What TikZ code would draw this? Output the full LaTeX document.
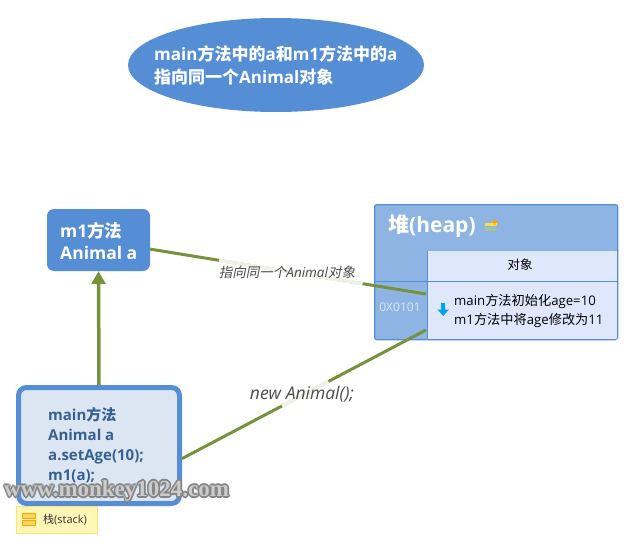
\documentclass[tikz,border=0pt]{standalone}
\usepackage{fontspec}
\usetikzlibrary{shapes.geometric,calc,arrows.meta}
\setmainfont{Open Sans}
\newfontfamily\cjk{Noto Sans CJK SC}
\newfontfamily\cjkit[FakeSlant=0.2]{Noto Sans CJK SC}
\newfontfamily\wmfont{Liberation Serif}
\newcommand{\fs}[1]{\fontsize{#1}{#1}\selectfont}
\newcommand{\fsl}[2]{\fontsize{#1}{#2}\selectfont}
\definecolor{blueA}{HTML}{558ED5}
\definecolor{blueB}{HTML}{8EB4E3}
\definecolor{paleA}{HTML}{DCE6F2}
\definecolor{paleB}{HTML}{DEE7FC}
\definecolor{olive}{HTML}{76923C}
\definecolor{navy}{HTML}{376092}
\definecolor{tagfill}{HTML}{FFF6B8}
\definecolor{tagline}{HTML}{FFE27A}
\definecolor{tagicon}{HTML}{FFD25E}
\definecolor{tagedge}{HTML}{F2A900}
\definecolor{arrowcyan}{HTML}{00A2F0}
\tikzset{
  txt/.style={inner sep=0pt,anchor=west,align=left},
  link/.style={draw=olive,line width=3pt},
  band/.style={draw=white,line width=3.4pt,opacity=.88},
  cell/.style={draw=blueA,line width=.8pt,inner sep=0pt,anchor=north west},
}
\begin{document}
\begin{tikzpicture}[x=1pt,y=-1pt]
\useasboundingbox[fill=white] (0,0) rectangle (633,549);
% callout
\node[ellipse,fill=blueA,minimum width=296pt,minimum height=94pt,inner sep=0pt] (note) at (276,65) {};
\node[txt,text=white,font=\bfseries\fsl{17}{23}] (notetext) at (154,65)
  {main{\cjk\bfseries 方法中的}a{\cjk\bfseries 和}m1{\cjk\bfseries 方法中的}a\\{\cjk\bfseries 指向同一个}Animal{\cjk\bfseries 对象}};
% m1
\node[fill=blueA,rounded corners=7pt,minimum width=103pt,minimum height=62pt,inner sep=0pt] (m1) at (98.5,240) {};
\node[txt,text=white,font=\bfseries\fsl{17.5}{22}] (m1text) at (60,241)
  {m1{\cjk\bfseries 方法}\\Animal a};
% main
\node[fill=paleA,draw=blueA,line width=5pt,rounded corners=8pt,minimum width=161pt,minimum height=116pt,inner sep=0pt] (mainbox) at (99,445.5) {};
\node[txt,text=navy,font=\bfseries\fsl{15}{20}] (maintext) at (48,445)
  {main{\cjk\bfseries 方法}\\Animal a\\a.setAge(10);\\m1(a);};
% stack tag
\node[fill=tagfill,draw=tagline,line width=.8pt,minimum width=81pt,minimum height=27pt,inner sep=0pt] (tag) at (56.5,519.5) {};
\path[fill=tagicon,draw=tagedge,line width=.8pt] (22.5,513.5) rectangle (35.5,518.5) (22.5,520.5) rectangle (35.5,525.5);
\node[txt,text=black!80,font=\fs{11}] (tagtext) at (43,520) {{\cjk 栈}(stack)};
% heap
\node[cell,fill=blueB,rounded corners=2pt,minimum width=243pt,minimum height=135pt] (heap) at (374.5,204.5) {};
\node[cell,fill=paleB,draw=none,minimum width=190pt,minimum height=31pt] (head) at (427.5,250.5) {};
\node[cell,fill=paleB,draw=none,minimum width=190pt,minimum height=58pt] (body) at (427.5,281.5) {};
\draw[draw=blueA,line width=.8pt] (374.5,281.5) -- (617.5,281.5) (427.5,250.5) -- (427.5,339.5);
\draw[draw=blueA,line width=.8pt,rounded corners=2pt] (374.5,204.5) rectangle (617.5,339.5);
\node[txt,text=white,font=\bfseries\fs{21}] (heaptitle) at (388,226) {{\cjk\bfseries 堆}(heap)};
\fill[yellow!65!orange!70!white] (484.5,222.5) rectangle (497,225.5);
\fill[green!30!gray!60!white] (484.5,227) rectangle (496,231);
\draw[orange!75!yellow,line width=1.2pt] (491.5,222) -- (497.5,222) (494.5,219) -- (494.5,225);
\node[font=\cjk\fs{12.5},inner sep=0pt] (headtext) at (520,265) {对象};
\node[font=\fs{12},text=paleA,inner sep=0pt] (addr) at (400,307.5) {0X0101};
\fill[arrowcyan] (441.2,303) -- (445.2,303) -- (445.2,309.5) -- (449,309.5) -- (443.2,316) -- (437.4,309.5) -- (441.2,309.5) -- cycle;
\node[txt,font=\fsl{13.2}{19}] (bodytext) at (454,310.5)
  {main{\cjk 方法初始化}age=10\\m1{\cjk 方法中将}age{\cjk 修改为}11};
% connectors
\coordinate (h1) at (426,294);
\coordinate (h2) at (426,330);
\draw[link,line width=3.5pt,-{Triangle[length=13pt,width=14pt]}] (mainbox.north) -- (m1.south);
\draw[link] (m1.-10) -- (h1);
\draw[link] (mainbox.-9.5) -- (h2);
\draw[band] ($(m1.-10)!.25!(h1)$) -- ($(m1.-10)!.77!(h1)$);
\draw[band] ($(mainbox.-9.5)!.41!(h2)$) -- ($(mainbox.-9.5)!.60!(h2)$);
\node[text=black!70,font=\fs{13.5},inner sep=0pt] (lab1) at (287,272) {{\cjkit 指向同一个}{\itshape Animal}{\cjkit 对象}};
\node[text=black!70,font=\itshape\fs{17.5},inner sep=0pt] (lab2) at (302,394) {new Animal();};
% watermark
\foreach \dx/\dy in {-1.6/0,1.6/0,0/-1.6,0/1.6,-1.2/-1.2,1.2/-1.2,-1.2/1.2,1.2/1.2}
  \node[font=\wmfont\bfseries\fs{23},text=black!48,inner sep=0pt,anchor=west] at (4+\dx,491+\dy) {www.monkey1024.com};
\node[font=\wmfont\bfseries\fs{23},text=black!20,inner sep=0pt,anchor=west] (wm) at (4,491) {www.monkey1024.com};
\end{tikzpicture}
\end{document}
